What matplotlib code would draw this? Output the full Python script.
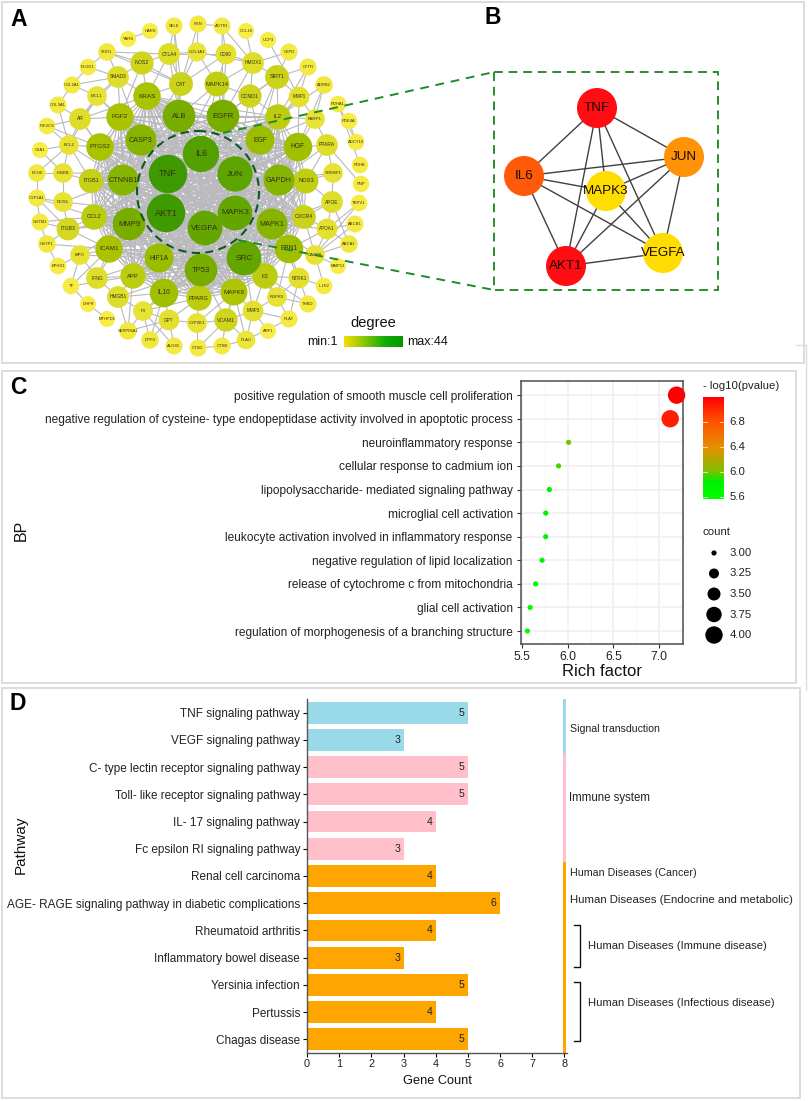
#!/usr/bin/env python3
"""Four panel figure: PPI network, core subnetwork, BP dot plot, KEGG bars."""

import numpy as np
import matplotlib
matplotlib.use("Agg")
import matplotlib.pyplot as plt
from matplotlib.collections import LineCollection
from matplotlib.colors import LinearSegmentedColormap, Normalize
from matplotlib.patches import Circle, Rectangle

plt.rcParams["font.family"] = ["Liberation Sans", "DejaVu Sans"]

W, H = 809, 1101

# panel A, positions in pixels
NODE_NAMES = [
    "YARS", "HARS", "SELE", "REN", "AGTR1", "CCL18", "UCP3", "G6PD", "CFTR", "ADRB2",
    "PDHA1", "PDE4A", "ADCY10", "PDHB", "PNP", "TRPV1", "ABCB1", "ABCA1", "MMP12", "IL1R2",
    "THBD", "PLAT", "ARF1", "CTSB", "CTSD", "ALOX5", "DPP4", "SERPINA1", "MTHFD1", "DHFR",
    "TF", "EPHX1", "GSTP1", "GSTM1", "CYP1A1", "BCHE", "GJA1", "PIK3CG", "COL3A1", "COL2A1",
    "PLOD1", "SOD1", "COL1A1", "CTLA4", "CD80", "HMOX1", "NOS2", "SMAD3", "CAT", "MCL1",
    "IKBKB", "BCL2", "AR", "NOS1", "ITGB3", "MPO", "IFNG", "HMGB1", "F3", "GPT",
    "CYP2E1", "PLAU", "VCAM1", "MMP3", "FGFR3", "NTRK1", "CASP8", "APOA1", "APOE", "SREBF1",
    "PPARA", "PARP1", "MMP1", "SIRT1", "CCND1", "MAPK14", "KRAS", "FGF2", "PTGS2", "ITGB1",
    "CCL2", "ICAM1", "APP", "IL10", "PPARG", "MAPK8", "F2", "EBN1", "CXCR4", "NOS3",
    "HGF", "IL2", "CASP3", "CTNNB1", "MMP9", "HIF1A", "TP53", "SRC", "MAPK1", "GAPDH",
    "EGF", "EGFR", "ALB", "IL6", "TNF", "JUN", "AKT1", "MAPK3", "VEGFA",
]
NODE_X = [
    128, 150, 174, 198, 222, 246, 268, 289, 308, 324,
    338, 349, 356, 360, 361, 359, 355, 349, 338, 324,
    308, 289, 268, 222, 198, 174, 150, 128, 107, 88,
    71, 58, 47, 40, 37, 37, 40, 47, 58, 72,
    88, 107, 197, 169, 226, 253, 142, 118, 181, 97,
    63, 69, 80, 63, 68, 80, 97, 118, 143, 169,
    197, 246, 226, 253, 277, 299, 315, 327, 332, 333,
    327, 315, 299, 277, 250, 217, 147, 120, 100, 91,
    94, 109, 133, 164, 199, 234, 265, 289, 304, 306,
    298, 278, 141, 123, 129, 159, 201, 244, 272, 279,
    260, 223, 179, 201, 168, 235, 166, 235, 205,
]
NODE_Y = [
    39, 31, 26, 24, 26, 31, 40, 52, 67, 85,
    104, 121, 142, 165, 184, 203, 224, 244, 266, 286,
    304, 319, 331, 346, 348, 346, 340, 331, 319, 304,
    286, 266, 244, 222, 198, 173, 150, 126, 105, 85,
    67, 52, 52, 54, 54, 63, 63, 77, 84, 96,
    173, 145, 119, 202, 229, 255, 278, 297, 311, 320,
    323, 340, 320, 311, 297, 278, 255, 229, 202, 173,
    145, 119, 97, 77, 96, 84, 96, 117, 147, 181,
    217, 249, 276, 293, 298, 292, 276, 249, 217, 181,
    147, 117, 140, 180, 224, 258, 270, 258, 224, 180,
    140, 116, 116, 154, 174, 174, 213, 213, 228,
]
NODE_DEGREE = [
    1, 1, 3, 3, 3, 1, 1, 3, 3, 4,
    2, 2, 2, 2, 2, 2, 3, 4, 1, 2,
    3, 3, 1, 3, 3, 3, 4, 4, 1, 1,
    2, 2, 4, 3, 3, 4, 1, 2, 3, 3,
    2, 4, 7, 12, 10, 12, 15, 12, 16, 8,
    8, 8, 12, 8, 14, 8, 12, 12, 8, 10,
    8, 6, 15, 10, 8, 10, 8, 10, 12, 8,
    12, 8, 10, 16, 15, 18, 23, 23, 23, 17,
    19, 23, 19, 25, 19, 22, 19, 25, 16, 18,
    25, 19, 30, 30, 33, 26, 33, 37, 30, 30,
    26, 33, 33, 40, 44, 38, 44, 37, 37,
]

# every pair of these is linked, the hairball in the middle
CORE_GENES = [
    "IL6", "TNF", "JUN", "AKT1", "MAPK3", "VEGFA", "SRC", "TP53", "MAPK1", "GAPDH",
    "EGF", "EGFR", "ALB", "CASP3", "CTNNB1", "MMP9", "HIF1A", "IL10", "PPARG", "MAPK8",
    "F2", "EBN1", "NOS3", "HGF", "IL2", "ICAM1", "CCL2", "PTGS2", "FGF2", "KRAS",
    "ITGB1", "APP", "CXCR4",
]
OUTER_LINKS = {
    "YARS": ["HARS"], "SELE": ["CTLA4", "CAT", "ALB"], "REN": ["COL1A1", "AGTR1", "CAT"],
    "AGTR1": ["CD80", "HMOX1", "EGFR"], "CCL18": ["HMOX1"], "UCP3": ["MMP1"],
    "G6PD": ["HMOX1", "SIRT1"], "CFTR": ["MMP1", "SIRT1", "IL2"], "ADRB2": ["PARP1", "HGF", "IL2"],
    "PDHA1": ["PDHB"], "PDE4A": ["ADCY10"], "ADCY10": ["PDHA1"], "PNP": ["PPARA"],
    "TRPV1": ["APOA1", "CASP8"], "ABCB1": ["APOA1", "CASP8"], "ABCA1": ["APOA1", "APOE", "CASP8"],
    "MMP12": ["CASP8"], "IL1R2": ["CASP8", "NTRK1"], "THBD": ["F2", "NTRK1", "FGFR3"],
    "PLAT": ["MMP3", "F2", "NTRK1"], "ARF1": ["MMP3"], "CTSB": ["VCAM1", "PLAU", "CTSD"],
    "CTSD": ["VCAM1", "CYP2E1"], "ALOX5": ["GPT", "F3"], "DPP4": ["GPT", "F3", "IL10"],
    "SERPINA1": ["GPT", "F3", "APP", "HMGB1"], "MTHFD1": ["DHFR"], "DHFR": ["TF"],
    "TF": ["MPO", "APP", "ICAM1"], "EPHX1": ["GSTP1", "MPO"], "GSTP1": ["GSTM1", "ITGB3", "ICAM1"],
    "GSTM1": ["CYP1A1", "ITGB3", "CCL2"], "CYP1A1": ["NOS1", "ITGB3", "CCL2"],
    "BCHE": ["IKBKB", "BCL2", "CYP1A1"], "GJA1": ["BCL2", "IKBKB"], "PIK3CG": ["BCL2", "AR", "PTGS2"],
    "COL3A1": ["COL2A1", "BCL2", "AR"], "COL2A1": ["MCL1", "SMAD3", "PLOD1"],
    "PLOD1": ["SOD1", "SMAD3"], "SOD1": ["NOS2", "SMAD3", "CTLA4", "CAT"],
    "COL1A1": ["CTLA4", "CAT", "HMOX1", "MAPK14"], "CTLA4": ["NOS2", "CD80", "KRAS", "CAT", "ALB"],
    "CD80": ["HMOX1", "MAPK14", "CAT", "EGFR"], "HMOX1": ["SIRT1", "CCND1", "EGFR", "MAPK14"],
    "NOS2": ["SMAD3", "KRAS", "FGF2", "CAT"], "SMAD3": ["MCL1", "KRAS", "FGF2", "AR", "CASP3"],
    "CAT": ["KRAS", "ALB", "CASP3", "TNF"], "MCL1": ["AR", "FGF2", "BCL2", "CASP3"],
    "IKBKB": ["BCL2", "ITGB1", "NOS1", "TNF"], "BCL2": ["AR", "PTGS2", "ITGB1", "CTNNB1"],
    "AR": ["FGF2", "PTGS2", "KRAS", "CTNNB1"], "NOS1": ["ITGB3", "CTNNB1", "AKT1"],
    "ITGB3": ["CCL2", "MMP9", "ICAM1", "AKT1"], "MPO": ["ICAM1", "IFNG", "MMP9", "HIF1A"],
    "IFNG": ["ICAM1", "APP", "HMGB1", "HIF1A", "MMP9"], "HMGB1": ["APP", "IL10", "F3", "TP53"],
    "F3": ["GPT", "IL10", "PPARG", "TP53"], "GPT": ["CYP2E1", "IL10", "PPARG"],
    "CYP2E1": ["PPARG", "VCAM1", "MAPK8"], "PLAU": ["VCAM1", "MMP3", "MAPK8", "PLAT"],
    "VCAM1": ["MAPK8", "MMP3", "TP53", "SRC"], "MMP3": ["F2", "FGFR3", "MAPK8", "SRC"],
    "FGFR3": ["NTRK1", "F2", "EBN1", "SRC"], "NTRK1": ["EBN1", "F2", "MAPK1"],
    "CASP8": ["EBN1", "APOA1", "CXCR4", "MAPK1"], "APOA1": ["APOE", "EBN1", "CXCR4", "MAPK1"],
    "APOE": ["CXCR4", "NOS3", "SREBF1", "MAPK1"], "SREBF1": ["PPARA", "NOS3", "GAPDH"],
    "PPARA": ["PARP1", "HGF", "NOS3", "GAPDH"], "PARP1": ["IL2", "HGF", "MMP1", "EGF"],
    "MMP1": ["SIRT1", "IL2", "HGF", "EGF"], "SIRT1": ["CCND1", "IL2", "EGF", "EGFR", "JUN"],
    "CCND1": ["MAPK14", "EGFR", "IL2", "EGF", "JUN"], "MAPK14": ["ALB", "EGFR", "JUN", "TNF", "IL6"],
}

# panel B
HUB_NAMES = ["TNF", "JUN", "IL6", "MAPK3", "VEGFA", "AKT1"]
HUB_X = [597, 684, 524, 606, 663, 566]
HUB_Y = [108, 157, 176, 191, 253, 266]
HUB_COLORS = ["#ff0d12", "#ff9305", "#ff5a0a", "#ffdd00", "#ffdd00", "#ff0d12"]

# panel C
BP_TERMS = [
    "positive regulation of smooth muscle cell proliferation",
    "negative regulation of cysteine- type endopeptidase activity involved in apoptotic process",
    "neuroinflammatory response",
    "cellular response to cadmium ion",
    "lipopolysaccharide- mediated signaling pathway",
    "microglial cell activation",
    "leukocyte activation involved in inflammatory response",
    "negative regulation of lipid localization",
    "release of cytochrome c from mitochondria",
    "glial cell activation",
    "regulation of morphogenesis of a branching structure",
]
BP_RICH = [7.19, 7.12, 6.01, 5.90, 5.80, 5.76, 5.76, 5.72, 5.65, 5.59, 5.56]
BP_LOGP = [7.2, 7.05, 6.0, 5.93, 5.85, 5.8, 5.8, 5.75, 5.7, 5.65, 5.62]
BP_COUNT = [4, 4, 3, 3, 3, 3, 3, 3, 3, 3, 3]
COUNT_TICKS = [3.00, 3.25, 3.50, 3.75, 4.00]
COUNT_RADIUS = [2.6, 5.0, 6.5, 7.7, 8.7]

# panel D
PATHWAYS = [
    "TNF signaling pathway", "VEGF signaling pathway",
    "C- type lectin receptor signaling pathway", "Toll- like receptor signaling pathway",
    "IL- 17 signaling pathway", "Fc epsilon RI signaling pathway",
    "Renal cell carcinoma", "AGE- RAGE signaling pathway in diabetic complications",
    "Rheumatoid arthritis", "Inflammatory bowel disease",
    "Yersinia infection", "Pertussis", "Chagas disease",
]
GENE_COUNT = [5, 3, 5, 5, 4, 3, 4, 6, 4, 3, 5, 4, 5]
PATHWAY_COLORS = ["#9ad9e8"] * 2 + ["#ffc0cb"] * 4 + ["#ffa500"] * 7


def axes_px(fig, left, top, right, bottom):
    return fig.add_axes([left / W, 1 - bottom / H, (right - left) / W, (bottom - top) / H])


def node_radius(degree):
    return 8.0 + (degree - 1) * 11.2 / 43


fig = plt.figure(figsize=(W / 100, H / 100), dpi=100, facecolor="white")

# overlay in pixel coordinates for the networks, frames and loose text
ov = fig.add_axes([0, 0, 1, 1], zorder=5)
ov.set_xlim(0, W)
ov.set_ylim(H, 0)
ov.axis("off")

FRAME = "#dcdcdc"
for x0, y0, x1, y1 in [(2, 2, 804, 363), (2, 371, 796, 683), (2, 688, 800, 1098)]:
    ov.add_patch(Rectangle((x0, y0), x1 - x0, y1 - y0, fill=False, ec=FRAME, lw=1.4))
ov.plot([806, 806], [345, 690], color=FRAME, lw=1)
ov.plot([796, 806], [345, 345], color=FRAME, lw=1)

for letter, x, y in [("A", 19, 19), ("B", 493, 18), ("C", 18, 388), ("D", 18, 703)]:
    ov.text(x, y, letter, fontsize=16.5, fontweight="bold", ha="center", va="center", color="black")

# panel A
degree_cmap = LinearSegmentedColormap.from_list(
    "degree", ["#f8ec45", "#dfdd2b", "#abc400", "#77ad00", "#3f9900"]
)
pos = {n: (x, y) for n, x, y in zip(NODE_NAMES, NODE_X, NODE_Y)}
segments = []
for i, a in enumerate(CORE_GENES):
    for b in CORE_GENES[i + 1:]:
        segments.append([pos[a], pos[b]])
for a, targets in OUTER_LINKS.items():
    for b in targets:
        segments.append([pos[a], pos[b]])
ov.add_collection(LineCollection(segments, colors="#b9b9be", linewidths=0.8, zorder=1))

for name, x, y, deg in zip(NODE_NAMES, NODE_X, NODE_Y, NODE_DEGREE):
    r = node_radius(deg)
    ov.add_patch(Circle((x, y), r, fc=degree_cmap((deg - 1) / 43), ec="none", zorder=2))
    ov.text(x, y, name, fontsize=max(3.0, 2.4 + deg * 0.095),
            ha="center", va="center", color="#33330f", zorder=3)

ov.add_patch(Circle((198, 192), 61, fill=False, ec="#0b5a22", lw=1.5, ls=(0, (4, 2.5)), zorder=4))
ov.plot([223, 494], [133, 72], color="#1f8a2a", lw=1.4, ls=(0, (4.5, 3.5)), zorder=4)
ov.plot([238, 494], [240, 290], color="#1f8a2a", lw=1.4, ls=(0, (4.5, 3.5)), zorder=4)

ov.text(373, 323, "degree", fontsize=10.5, ha="center", va="center", color="#111111")
ov.text(338, 342, "min:1", fontsize=9, ha="right", va="center", color="#111111")
ov.text(407, 342, "max:44", fontsize=9, ha="left", va="center", color="#111111")
legend_cmap = LinearSegmentedColormap.from_list(
    "legend", [(0, "#f5e000"), (0.7, "#12ab0a"), (1, "#009a00")]
)
ov.imshow(np.linspace(0, 1, 128)[None, :], cmap=legend_cmap, extent=(344, 403, 347, 336),
          aspect="auto", zorder=2)
ov.set_xlim(0, W)
ov.set_ylim(H, 0)

# panel B
ov.add_patch(Rectangle((494, 72), 224, 218, fill=False, ec="#2c8c2c", lw=1.4, ls=(0, (4.5, 3))))
hub_pos = {n: (x, y) for n, x, y in zip(HUB_NAMES, HUB_X, HUB_Y)}
hub_segments = []
for i, a in enumerate(HUB_NAMES):
    for b in HUB_NAMES[i + 1:]:
        hub_segments.append([hub_pos[a], hub_pos[b]])
ov.add_collection(LineCollection(hub_segments, colors="#404040", linewidths=1.0, zorder=1))
for name, x, y, color in zip(HUB_NAMES, HUB_X, HUB_Y, HUB_COLORS):
    ov.add_patch(Circle((x, y), 20, fc=color, ec="none", zorder=2))
    ov.text(x, y, name, fontsize=9.6, ha="center", va="center", color="#1a0a00", zorder=3)

# panel C
logp_cmap = LinearSegmentedColormap.from_list(
    "logp", [(0, "#00ff00"), (0.17, "#00f000"), (0.27, "#7cc000"), (0.5, "#e59000"),
             (0.75, "#ff5500"), (1, "#ff0000")]
)
logp_norm = Normalize(5.57, 7.2)

axc = axes_px(fig, 521, 381, 683, 644)
axc.set_xlim(5.49, 7.26)
axc.set_ylim(-0.55, 10.6)
axc.set_axisbelow(True)
axc.set_xticks([5.5, 6.0, 6.5, 7.0])
axc.set_xticks([5.75, 6.25, 6.75, 7.25], minor=True)
y_terms = np.arange(len(BP_TERMS))[::-1]
axc.set_yticks(y_terms)
axc.set_yticklabels(BP_TERMS)
axc.grid(True, which="major", color="#f0f0f0", lw=1.2)
axc.grid(True, which="minor", axis="x", color="#f5f5f5", lw=0.7)
axc.tick_params(axis="x", which="minor", length=0)
axc.tick_params(axis="both", which="major", length=3, width=0.8, color="#333333")
axc.tick_params(axis="y", labelsize=8.6, labelcolor="#222222", pad=3)
axc.tick_params(axis="x", labelsize=8.8, labelcolor="#222222", pad=2)
for spine in axc.spines.values():
    spine.set_color("#4d4d4d")
    spine.set_linewidth(1.1)
sizes = (np.interp(BP_COUNT, COUNT_TICKS, COUNT_RADIUS) * 2 * 0.72) ** 2
axc.scatter(BP_RICH, y_terms, s=sizes, c=BP_LOGP, cmap=logp_cmap, norm=logp_norm,
            linewidths=0, zorder=3, clip_on=False)
axc.set_xlabel("Rich factor", fontsize=12, labelpad=1, color="#111111")
ov.text(21, 530, "BP", fontsize=11.5, rotation=90, ha="center", va="center", color="#111111")

ov.text(703, 386, "- log10(pvalue)", fontsize=8.2, ha="left", va="center", color="#222222")
axb = axes_px(fig, 703, 397, 724, 499)
axb.imshow(np.linspace(7.2, 5.57, 200)[:, None], cmap=logp_cmap, norm=logp_norm, aspect="auto",
           extent=(0, 1, 5.57, 7.2))
axb.set_xticks([])
axb.set_yticks([])
for spine in axb.spines.values():
    spine.set_visible(False)
for tick in [5.6, 6.0, 6.4, 6.8]:
    axb.plot([0, 0.2], [tick, tick], color="white", lw=0.6, alpha=0.8)
    axb.plot([0.8, 1], [tick, tick], color="white", lw=0.6, alpha=0.8)
    axb.text(1.25, tick, f"{tick:.1f}", fontsize=8.2, va="center", ha="left", color="#222222",
             clip_on=False)
axb.set_xlim(0, 1)
axb.set_ylim(5.57, 7.2)

ov.text(703, 532, "count", fontsize=8.2, ha="left", va="center", color="#222222")
for i, (tick, r) in enumerate(zip(COUNT_TICKS, COUNT_RADIUS)):
    y = 553 + i * 20.5
    ov.add_patch(Circle((714, y), r, fc="black", ec="none"))
    ov.text(730, y, f"{tick:.2f}", fontsize=8.2, va="center", ha="left", color="#222222")

# panel D
axd = axes_px(fig, 307, 699, 567, 1053)
rows = np.arange(len(PATHWAYS))
axd.barh(rows, GENE_COUNT, height=0.8, color=PATHWAY_COLORS)
axd.barh(rows, [0.1] * len(rows), left=7.95, height=1.0, color=PATHWAY_COLORS)
for row, count in zip(rows, GENE_COUNT):
    axd.text(count - 0.2, row, str(count), fontsize=7.6, ha="center", va="center", color="#222222")
axd.set_xlim(0, 8.08)
axd.set_ylim(12.5, -0.5)
axd.set_xticks(range(9))
axd.set_yticks(rows)
axd.set_yticklabels(PATHWAYS)
axd.tick_params(axis="y", labelsize=8.5, labelcolor="#222222", length=3, width=0.8, pad=2)
axd.tick_params(axis="x", labelsize=7.8, labelcolor="#222222", length=3, width=0.8, pad=1.5)
axd.spines[["top", "right"]].set_visible(False)
axd.spines[["left", "bottom"]].set_color("#555555")
axd.spines[["left", "bottom"]].set_linewidth(1.0)
axd.set_xlabel("Gene Count", fontsize=9.2, labelpad=4, color="#111111")
ov.text(21, 845, "Pathway", fontsize=11, rotation=90, ha="center", va="center", color="#111111")

for label, x, y, size in [
    ("Signal transduction", 570, 729, 7.6),
    ("Immune system", 569, 798, 8.3),
    ("Human Diseases (Cancer)", 570, 873, 7.7),
    ("Human Diseases (Endocrine and metabolic)", 570, 900, 8.2),
    ("Human Diseases (Immune disease)", 588, 946, 8.15),
    ("Human Diseases (Infectious disease)", 588, 1003, 8.15),
]:
    ov.text(x, y, label, fontsize=size, ha="left", va="center", color="#222222")

for top, bottom in [(925, 967), (982, 1041)]:
    ov.plot([574, 580, 580, 574], [top, top, bottom, bottom], color="#111111", lw=1.0)

fig.savefig("out.png", dpi=100, facecolor="white")
plt.close(fig)
